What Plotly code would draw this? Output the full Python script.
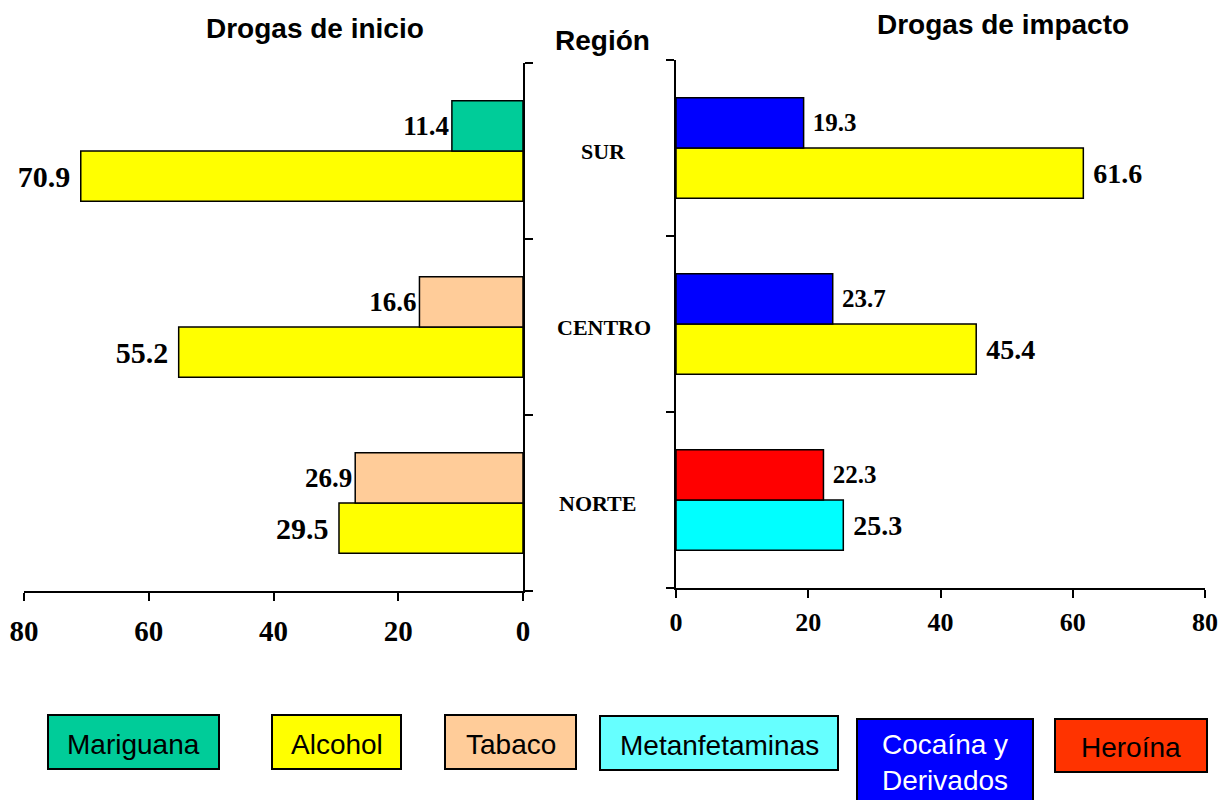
import plotly.graph_objects as go

# ---------------- data ----------------
regions = ["NORTE", "CENTRO", "SUR"]

inicio_bottom_drug = ["Alcohol", "Alcohol", "Alcohol"]
inicio_bottom_vals = [29.5, 55.2, 70.9]
inicio_top_drug = ["Tabaco", "Tabaco", "Mariguana"]
inicio_top_vals = [26.9, 16.6, 11.4]

impacto_bottom_drug = ["Metanfetaminas", "Alcohol", "Alcohol"]
impacto_bottom_vals = [25.3, 45.4, 61.6]
impacto_top_drug = ["Heroína", "Cocaína y Derivados", "Cocaína y Derivados"]
impacto_top_vals = [22.3, 23.7, 19.3]

x_ticks = [0, 20, 40, 60, 80]

legend_labels = ["Mariguana", "Alcohol", "Tabaco", "Metanfetaminas", "Cocaína y<br>Derivados", "Heroína"]

bar_colors = {
    "Mariguana": "#00CC99",
    "Alcohol": "#FFFF00",
    "Tabaco": "#FFCC99",
    "Metanfetaminas": "#00FFFF",
    "Cocaína y Derivados": "#0000FF",
    "Heroína": "#FF0000",
}
legend_colors = ["#00CC99", "#FFFF00", "#FFCC99", "#66FFFF", "#0000FF", "#FF3300"]
legend_text_colors = ["black", "black", "black", "black", "white", "black"]

# ---------------- layout helpers ----------------
W, H = 1228, 800
OFF = 8  # page body margin
def px(x):
    return (x - OFF) / W
def py(y):
    return 1 - (y - OFF) / H

SERIF = "Liberation Serif, Times New Roman, serif"
SANS = "Liberation Sans, Arial, sans-serif"
NB = "\u00a0"

fig = go.Figure()

line = dict(color="black", width=1.5)

# left panel (reversed x)
fig.add_trace(go.Bar(
    y=regions, x=inicio_bottom_vals, orientation="h",
    marker=dict(color=[bar_colors[d] for d in inicio_bottom_drug], line=line),
    text=[f"{v:.1f}{NB}" for v in inicio_bottom_vals], textposition="outside",
    textfont=dict(family=SERIF, size=30, color="black", weight="bold"),
    cliponaxis=False, constraintext="none", xaxis="x", yaxis="y", showlegend=False,
))
fig.add_trace(go.Bar(
    y=regions, x=inicio_top_vals, orientation="h",
    marker=dict(color=[bar_colors[d] for d in inicio_top_drug], line=line),
    text=[f"{v:.1f}" for v in inicio_top_vals], textposition="outside",
    textfont=dict(family=SERIF, size=27, color="black", weight="bold"),
    cliponaxis=False, constraintext="none", xaxis="x", yaxis="y", showlegend=False,
))
# right panel
fig.add_trace(go.Bar(
    y=regions, x=impacto_bottom_vals, orientation="h",
    marker=dict(color=[bar_colors[d] for d in impacto_bottom_drug], line=line),
    text=[f"{NB}{v:.1f}" for v in impacto_bottom_vals], textposition="outside",
    textfont=dict(family=SERIF, size=28, color="black", weight="bold"),
    cliponaxis=False, constraintext="none", xaxis="x2", yaxis="y2", showlegend=False,
))
fig.add_trace(go.Bar(
    y=regions, x=impacto_top_vals, orientation="h",
    marker=dict(color=[bar_colors[d] for d in impacto_top_drug], line=line),
    text=[f"{NB}{v:.1f}" for v in impacto_top_vals], textposition="outside",
    textfont=dict(family=SERIF, size=25, color="black", weight="bold"),
    cliponaxis=False, constraintext="none", xaxis="x2", yaxis="y2", showlegend=False,
))

axis_common = dict(showline=True, linecolor="black", linewidth=2, ticks="outside",
                   tickcolor="black", tickwidth=2, showgrid=False, zeroline=False,
                   automargin=False)

fig.update_layout(
    width=W, height=H,
    margin=dict(l=0, r=0, t=0, b=0, pad=0, autoexpand=False),
    paper_bgcolor="white", plot_bgcolor="white",
    barmode="group", bargap=0.43, bargroupgap=0,
    xaxis=dict(domain=[px(24), px(523)], range=[80, 0], anchor="y",
               tickvals=x_ticks, ticklen=8, ticklabelstandoff=5,
               tickfont=dict(family=SERIF, size=29, color="black", weight="bold"),
               **axis_common),
    yaxis=dict(domain=[py(591), py(63)], anchor="x", side="right",
               type="category", categoryorder="array", categoryarray=regions,
               range=[-0.5, 2.5], tickson="boundaries", ticklen=8, showticklabels=False,
               **axis_common),
    xaxis2=dict(domain=[px(676), px(1205)], range=[0, 80], anchor="y2",
                tickvals=x_ticks, ticklen=8, ticklabelstandoff=2,
                tickfont=dict(family=SERIF, size=26, color="black", weight="bold"),
                **axis_common),
    yaxis2=dict(domain=[py(588), py(60)], anchor="x2", side="left",
                type="category", categoryorder="array", categoryarray=regions,
                range=[-0.5, 2.5], tickson="boundaries", ticklen=8, showticklabels=False,
                **axis_common),
)

annotations = []
# titles
for text, x, y in [("Drogas de inicio", 315, 28), ("Región", 602, 40), ("Drogas de impacto", 1003, 25)]:
    annotations.append(dict(text=f"<b>{text}</b>", x=px(x), y=py(y), xref="paper", yref="paper",
                            xanchor="center", yanchor="middle", showarrow=False,
                            font=dict(family=SANS, size=28, color="black")))
# region labels
region_label_x = {"NORTE": 597, "CENTRO": 604, "SUR": 603}
for r in regions:
    annotations.append(dict(text=f"<b>{r}</b>", x=px(region_label_x[r]), y=r, xref="paper", yref="y",
                            xanchor="center", yanchor="middle", showarrow=False,
                            font=dict(family=SERIF, size=22, color="black")))

# legend boxes
boxes = [(48, 219, 715, 769), (272, 401, 715, 769), (445, 576, 715, 769),
         (600, 838, 716, 770), (857, 1033, 719, 808), (1055, 1207, 719, 772)]
shapes = []
for (x0, x1, y0, y1), lab, col, tcol in zip(boxes, legend_labels, legend_colors, legend_text_colors):
    shapes.append(dict(type="rect", xref="paper", yref="paper", x0=px(x0), x1=px(x1),
                       y0=py(y1), y1=py(y0), fillcolor=col, line=dict(color="black", width=2)))
    if "<br>" in lab:
        ty = 762
    else:
        ty = (y0 + y1) / 2 + 2
    annotations.append(dict(text=lab, x=px((x0 + x1) / 2), y=py(ty), xref="paper", yref="paper",
                            xanchor="center", yanchor="middle", showarrow=False,
                            font=dict(family=SANS, size=28, color=tcol)))

fig.update_layout(annotations=annotations, shapes=shapes)

fig.write_html("out.html")
